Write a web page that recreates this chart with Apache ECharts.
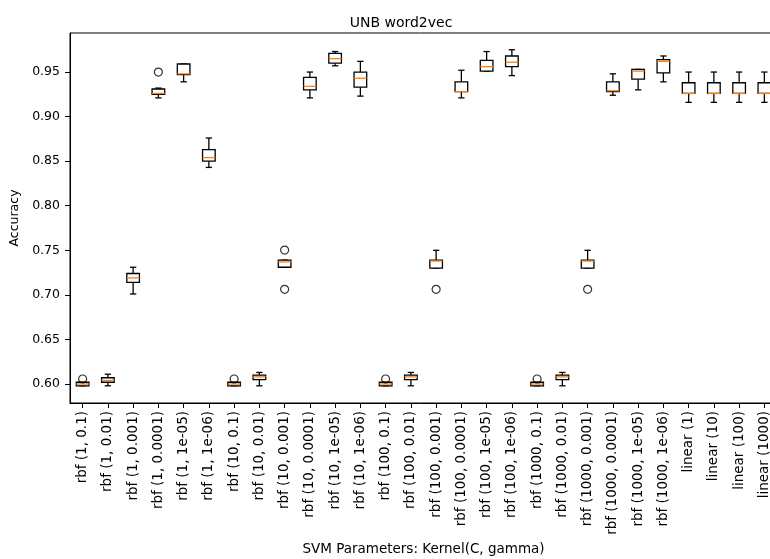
<!DOCTYPE html>
<html><head><meta charset="utf-8">
<script src="https://cdn.jsdelivr.net/npm/echarts@6/dist/echarts.min.js"></script>
<style>html,body{margin:0;padding:0;background:#fff}#c{width:770px;height:559px}</style>
</head><body><div id="c"></div>
<script>
const categories = [
  'rbf (1, 0.1)','rbf (1, 0.01)','rbf (1, 0.001)','rbf (1, 0.0001)','rbf (1, 1e-05)','rbf (1, 1e-06)',
  'rbf (10, 0.1)','rbf (10, 0.01)','rbf (10, 0.001)','rbf (10, 0.0001)','rbf (10, 1e-05)','rbf (10, 1e-06)',
  'rbf (100, 0.1)','rbf (100, 0.01)','rbf (100, 0.001)','rbf (100, 0.0001)','rbf (100, 1e-05)','rbf (100, 1e-06)',
  'rbf (1000, 0.1)','rbf (1000, 0.01)','rbf (1000, 0.001)','rbf (1000, 0.0001)','rbf (1000, 1e-05)','rbf (1000, 1e-06)',
  'linear (1)','linear (10)','linear (100)','linear (1000)'
];
const minVals = [0.598,0.598,0.701,0.921,0.939,0.843, 0.598,0.598,0.731,0.921,0.957,0.923, 0.598,0.598,0.730,0.921,0.951,0.946, 0.598,0.598,0.730,0.924,0.930,0.939, 0.916,0.916,0.916,0.916];
const q1Vals  = [0.598,0.602,0.714,0.925,0.947,0.850, 0.598,0.605,0.731,0.930,0.960,0.933, 0.598,0.605,0.730,0.928,0.951,0.956, 0.598,0.605,0.730,0.928,0.942,0.949, 0.926,0.926,0.926,0.926];
const medVals = [0.600,0.604,0.719,0.926,0.948,0.854, 0.600,0.608,0.737,0.934,0.965,0.943, 0.600,0.608,0.738,0.928,0.956,0.961, 0.600,0.608,0.738,0.929,0.951,0.962, 0.926,0.926,0.926,0.926];
const q3Vals  = [0.602,0.607,0.724,0.931,0.959,0.863, 0.602,0.610,0.739,0.944,0.971,0.950, 0.602,0.610,0.739,0.939,0.963,0.968, 0.602,0.610,0.739,0.939,0.953,0.964, 0.938,0.938,0.938,0.938];
const maxVals = [0.602,0.611,0.731,0.932,0.959,0.876, 0.602,0.613,0.739,0.950,0.973,0.962, 0.602,0.613,0.750,0.952,0.973,0.975, 0.602,0.613,0.750,0.948,0.953,0.968, 0.950,0.950,0.950,0.950];
const outlierCats = [0, 3, 6, 8, 8, 12, 14, 18, 20];
const outlierVals = [0.6056, 0.950, 0.6056, 0.7503, 0.7062, 0.6056, 0.7062, 0.6056, 0.7062];
const yTicks = [0.60, 0.65, 0.70, 0.75, 0.80, 0.85, 0.90, 0.95];
const yMin = 0.5787, yMax = 0.9938;

const boxData = categories.map((c, i) => [i, minVals[i], q1Vals[i], medVals[i], q3Vals[i], maxVals[i]]);
const outData = outlierCats.map((c, i) => [c, outlierVals[i]]);

const FONT = 'DejaVu Sans';
const LW = 1.3;
const chart = echarts.init(document.getElementById('c'), null, {renderer: 'canvas'});
chart.setOption({
  animation: false,
  backgroundColor: '#fff',
  title: {
    text: 'UNB word2vec', left: 396, top: 11, textAlign: 'center',
    textStyle: {fontFamily: FONT, fontSize: 14, fontWeight: 'normal', color: '#000'}
  },
  grid: {left: 70, top: 33, width: 707, height: 370, outerBoundsMode: 'none', containLabel: false,
    show: true, borderColor: '#000', borderWidth: 1, backgroundColor: 'transparent'},
  xAxis: {
    type: 'category', data: categories, boundaryGap: true,
    name: 'SVM Parameters: Kernel(C, gamma)', nameLocation: 'middle', nameGap: 138,
    nameTextStyle: {fontFamily: FONT, fontSize: 13.5, color: '#000', verticalAlign: 'top'},
    axisLine: {lineStyle: {color: '#000', width: 1}},
    axisTick: {show: true, alignWithLabel: true, length: 5, lineStyle: {color: '#000', width: 1}},
    axisLabel: {rotate: 90, interval: 0, margin: 8, fontFamily: FONT, fontSize: 13.5, color: '#000'},
    splitLine: {show: false}
  },
  yAxis: {
    type: 'value', min: yMin, max: yMax,
    name: 'Accuracy', nameLocation: 'middle', nameGap: 45, nameRotate: 90,
    nameTextStyle: {fontFamily: FONT, fontSize: 12.5, color: '#000'},
    axisLine: {show: true, lineStyle: {color: '#000', width: 1}},
    axisTick: {show: true, length: 5, customValues: yTicks, lineStyle: {color: '#000', width: 1}},
    axisLabel: {customValues: yTicks, margin: 10, fontFamily: FONT, fontSize: 12.5, color: '#000',
      formatter: v => Number(v).toFixed(2)},
    splitLine: {show: false}
  },
  series: [{
    type: 'custom',
    data: boxData,
    encode: {x: 0, y: [1, 2, 3, 4, 5]},
    renderItem: function (params, api) {
      const x = api.value(0);
      const pMin = api.coord([x, api.value(1)]);
      const pQ1 = api.coord([x, api.value(2)]);
      const pMed = api.coord([x, api.value(3)]);
      const pQ3 = api.coord([x, api.value(4)]);
      const pMax = api.coord([x, api.value(5)]);
      const cx = pMin[0];
      const bw = api.size([1, 0])[0] * 0.5;
      const cw = bw * 0.5;
      const st = {stroke: '#000', lineWidth: LW, fill: null};
      return {
        type: 'group',
        children: [
          {type: 'line', shape: {x1: cx, y1: pQ1[1], x2: cx, y2: pMin[1]}, style: st},
          {type: 'line', shape: {x1: cx, y1: pQ3[1], x2: cx, y2: pMax[1]}, style: st},
          {type: 'line', shape: {x1: cx - cw / 2, y1: pMin[1], x2: cx + cw / 2, y2: pMin[1]}, style: st},
          {type: 'line', shape: {x1: cx - cw / 2, y1: pMax[1], x2: cx + cw / 2, y2: pMax[1]}, style: st},
          {type: 'rect', shape: {x: cx - bw / 2, y: pQ3[1], width: bw, height: pQ1[1] - pQ3[1]}, style: {stroke: '#000', lineWidth: LW, fill: '#fff'}},
          {type: 'line', shape: {x1: cx - bw / 2, y1: pMed[1], x2: cx + bw / 2, y2: pMed[1]}, style: {stroke: '#ff7f0e', lineWidth: LW}}
        ]
      };
    }
  }, {
    type: 'scatter',
    data: outData,
    symbol: 'circle', symbolSize: 8,
    itemStyle: {color: 'transparent', borderColor: '#000', borderWidth: 1.2},
    z: 3
  }]
});
</script>
</body></html>
